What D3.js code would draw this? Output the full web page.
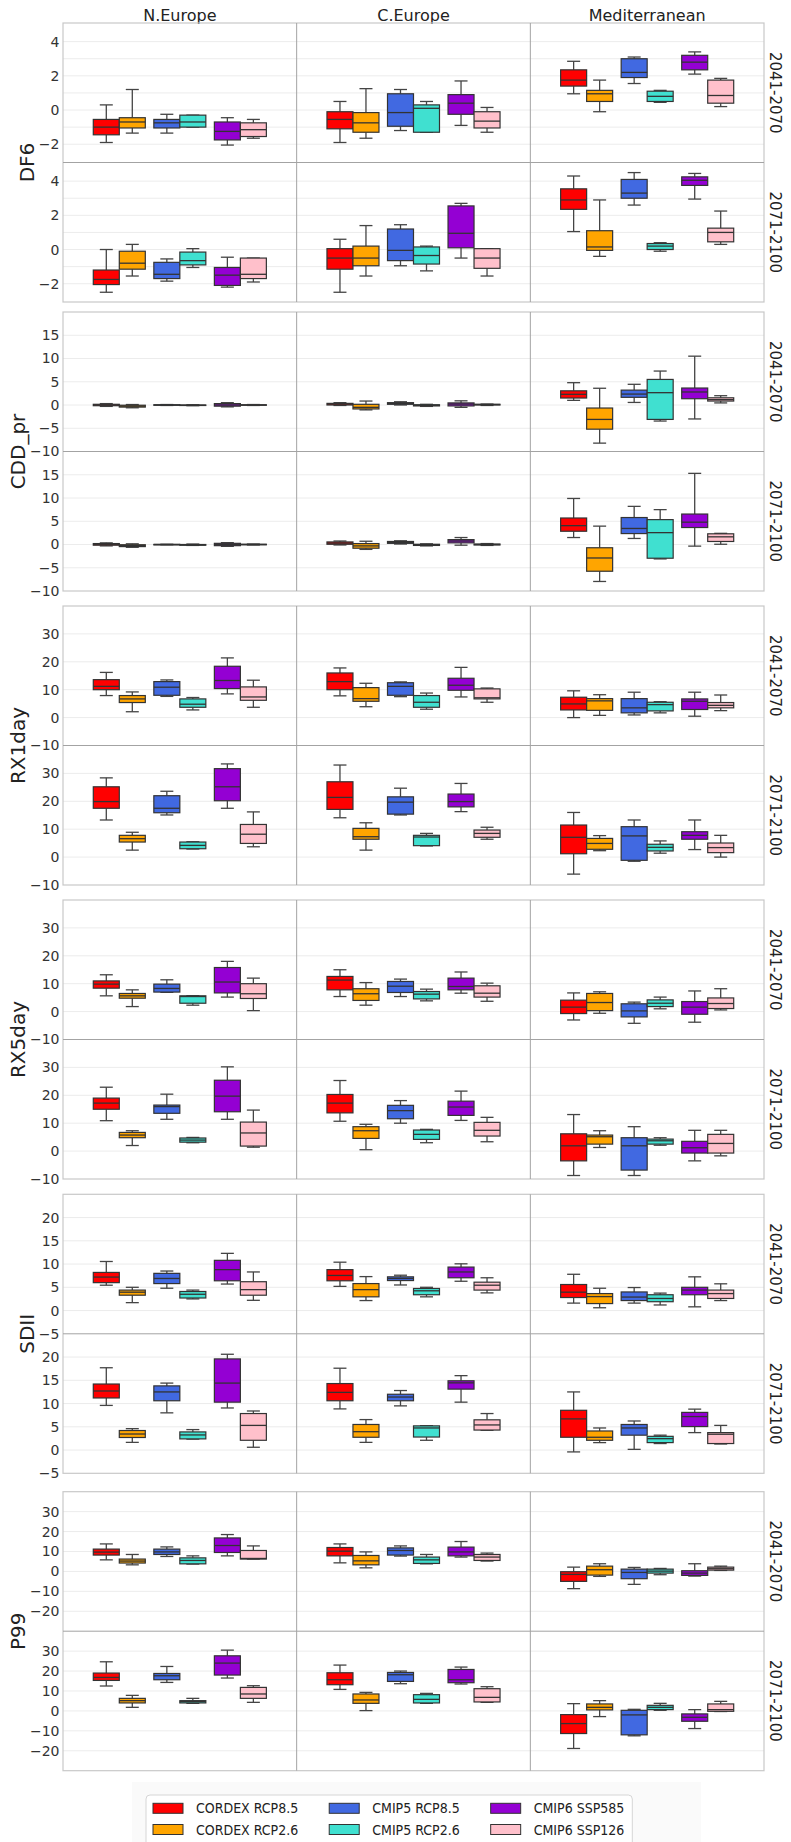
<!DOCTYPE html>
<html>
<head>
<meta charset="utf-8">
<script src="https://cdn.jsdelivr.net/npm/d3@7"></script>
<style>
  body { margin: 0; background: #fff; }
  svg { display: block; font-family: "DejaVu Sans", sans-serif; }
</style>
</head>
<body>
<div id="chart"></div>
<script>
// categories
var regions = ["N.Europe", "C.Europe", "Mediterranean"];
var periods = ["2041-2070", "2071-2100"];
var models = ["CORDEX", "CMIP5", "CMIP6"];
var series = ["CORDEX RCP8.5", "CORDEX RCP2.6", "CMIP5 RCP8.5", "CMIP5 RCP2.6", "CMIP6 SSP585", "CMIP6 SSP126"];
var seriesColors = ["#ff0000", "#ffa500", "#4169e1", "#40e0d0", "#9400d3", "#ffc0cb"];
var metrics = ["DF6", "CDD_pr", "RX1day", "RX5day", "SDII", "P99"];

// y limits, labelled ticks and grid step for each metric
var yDomains = [[-3.07, 5.09], [-10, 20], [-10, 40], [-10, 40], [-5, 25], [-30, 40]];
var yTicks = [
  [-2, 0, 2, 4],
  [-10, -5, 0, 5, 10, 15],
  [-10, 0, 10, 20, 30],
  [-10, 0, 10, 20, 30],
  [-5, 0, 5, 10, 15, 20],
  [-20, -10, 0, 10, 20, 30]
];
var yGridStep = [1, 5, 10, 10, 5, 10];

// box stats [whisker low, q1, median, q3, whisker high]
// one row per region (N.Europe, C.Europe, Mediterranean), series in legend order
var DF6_2041 = [
  [[-1.9,-1.45,-1.0,-0.55,0.3], [-1.35,-1.05,-0.7,-0.45,1.2], [-1.35,-1.05,-0.75,-0.55,-0.25], [-1.0,-1.0,-0.7,-0.3,-0.3], [-2.05,-1.75,-1.25,-0.7,-0.45], [-1.65,-1.55,-1.15,-0.75,-0.55]],
  [[-1.9,-1.1,-0.55,-0.1,0.5], [-1.65,-1.3,-0.75,-0.15,1.25], [-1.2,-0.95,-0.15,0.95,1.2], [-1.3,-1.3,0.1,0.3,0.5], [-0.9,-0.25,0.4,0.9,1.7], [-1.3,-1.05,-0.65,-0.1,0.15]],
  [[0.95,1.4,1.75,2.35,2.85], [-0.1,0.5,0.95,1.15,1.75], [1.55,1.9,2.2,3.0,3.1], [0.45,0.5,0.8,1.1,1.15], [2.1,2.35,2.8,3.2,3.4], [0.2,0.4,0.85,1.75,1.85]]
];
var DF6_2071 = [
  [[-2.5,-2.05,-1.75,-1.2,0.0], [-1.55,-1.15,-0.8,-0.1,0.3], [-1.85,-1.7,-1.45,-0.75,-0.55], [-1.05,-0.9,-0.65,-0.15,0.05], [-2.2,-2.1,-1.5,-1.05,-0.45], [-1.9,-1.7,-1.45,-0.5,-0.5]],
  [[-2.5,-1.15,-0.5,0.05,0.6], [-1.55,-0.95,-0.5,0.2,1.4], [-0.95,-0.65,-0.05,1.2,1.45], [-1.25,-0.85,-0.35,0.15,0.2], [-0.5,0.1,0.95,2.55,2.7], [-1.55,-1.1,-0.5,0.05,0.05]],
  [[1.05,2.35,2.9,3.55,4.3], [-0.4,-0.05,0.15,1.1,2.9], [2.6,3.0,3.3,4.1,4.5], [-0.1,0.0,0.2,0.35,0.4], [2.95,3.75,4.05,4.25,4.45], [0.3,0.45,1.0,1.25,2.25]]
];
var CDD_2041 = [
  [[-0.3,-0.15,0.0,0.15,0.3], [-0.6,-0.45,-0.25,-0.05,0.1], [-0.1,-0.05,0.0,0.05,0.1], [-0.15,-0.1,-0.05,0.0,0.05], [-0.4,-0.25,0.0,0.3,0.5], [-0.1,-0.05,0.0,0.05,0.1]],
  [[-0.1,0.0,0.2,0.35,0.5], [-1.05,-0.85,-0.5,0.15,0.85], [0.0,0.15,0.35,0.5,0.7], [-0.3,-0.2,-0.05,0.05,0.15], [-0.5,-0.2,0.2,0.45,0.9], [-0.1,0.0,0.1,0.15,0.2]],
  [[1.0,1.5,2.3,3.05,4.8], [-8.2,-5.2,-3.1,-0.65,3.6], [0.55,1.65,2.35,3.2,4.45], [-3.45,-3.1,2.65,5.5,7.3], [-3.0,1.35,2.8,3.65,10.5], [0.45,0.85,1.15,1.55,2.0]]
];
var CDD_2071 = [
  [[-0.3,-0.15,0.05,0.2,0.35], [-0.6,-0.45,-0.25,-0.05,0.15], [-0.05,-0.02,0.0,0.02,0.05], [-0.2,-0.15,-0.1,0.0,0.1], [-0.4,-0.25,0.0,0.25,0.4], [-0.1,-0.05,0.0,0.05,0.1]],
  [[-0.1,0.05,0.3,0.55,0.75], [-1.05,-0.8,-0.3,0.2,0.7], [0.1,0.25,0.45,0.65,0.8], [-0.3,-0.2,-0.1,0.05,0.15], [-0.15,0.35,0.75,1.05,1.5], [-0.2,-0.1,0.0,0.1,0.2]],
  [[1.5,2.85,4.05,5.7,9.9], [-7.95,-5.75,-2.9,-0.7,3.95], [1.3,2.35,3.45,5.8,8.2], [-3.1,-2.95,2.55,5.35,7.5], [-0.35,3.65,4.8,6.55,15.3], [0.05,0.65,1.65,2.3,2.4]]
];
var RX1_2041 = [
  [[7.9,10.0,11.2,13.6,16.2], [2.1,5.4,6.7,7.9,9.2], [7.6,8.0,10.9,12.9,13.5], [2.75,3.7,4.8,6.7,7.2], [8.5,10.4,13.3,18.4,21.4], [3.7,6.2,7.4,11.0,13.4]],
  [[7.8,10.0,12.9,16.0,17.8], [3.9,5.85,6.8,10.75,12.3], [7.5,8.0,11.2,12.5,12.8], [3.0,3.7,5.5,7.9,8.8], [7.4,9.8,11.6,14.1,18.0], [5.5,6.7,7.1,10.3,10.6]],
  [[0.0,2.75,4.9,7.3,9.6], [0.8,2.6,6.0,6.8,8.2], [0.95,1.7,3.5,6.8,9.1], [1.7,2.4,4.65,5.5,5.7], [0.5,2.9,5.85,6.7,9.1], [2.5,3.5,4.4,5.4,8.1]]
];
var RX1_2071 = [
  [[13.3,17.5,19.9,25.2,28.4], [2.5,5.4,6.6,7.8,8.9], [15.1,15.9,17.5,22.0,23.6], [2.9,3.0,4.2,5.4,5.5], [17.5,20.2,25.2,31.7,33.4], [3.7,4.9,8.2,11.7,16.2]],
  [[14.1,17.1,21.4,27.0,33.0], [2.5,6.4,7.3,10.3,12.3], [15.1,15.4,19.7,21.6,24.7], [4.0,4.1,7.2,7.8,8.5], [16.3,18.0,19.9,22.6,26.4], [6.4,7.1,8.5,9.7,10.7]],
  [[-6.1,1.2,7.1,11.5,16.0], [2.3,2.8,4.9,6.7,7.7], [-1.5,-1.15,7.6,10.9,13.3], [1.4,2.2,3.5,4.6,5.8], [2.7,6.4,7.8,9.1,13.3], [0.0,1.6,3.4,5.05,7.8]]
];
var RX5_2041 = [
  [[5.65,8.4,9.85,11.0,13.2], [1.8,4.8,5.65,6.5,7.8], [6.9,7.0,8.3,9.85,11.4], [2.3,3.0,5.4,5.65,5.7], [5.2,6.7,10.6,15.8,18.0], [0.35,4.7,6.4,10.0,12.0]],
  [[5.4,7.8,11.3,12.6,15.0], [2.3,4.0,6.4,8.2,10.4], [5.4,6.85,9.1,10.8,11.65], [3.85,4.55,6.25,7.2,8.05], [6.6,7.8,9.0,12.0,14.2], [3.7,5.2,6.6,9.25,10.2]],
  [[-3.0,-0.7,1.6,4.1,6.7], [-0.6,0.35,3.25,6.5,7.1], [-4.2,-1.9,0.25,2.8,3.4], [1.0,1.8,3.0,4.2,5.2], [-3.8,-0.95,1.6,3.6,7.4], [0.6,1.1,2.9,4.9,8.2]]
];
var RX5_2071 = [
  [[10.9,15.0,17.2,19.0,22.9], [2.0,4.8,5.75,6.7,7.3], [11.4,13.55,15.95,16.5,20.4], [3.0,3.2,3.95,4.7,4.9], [11.4,14.1,19.7,25.4,30.2], [1.4,1.8,6.5,10.4,14.7]],
  [[10.7,13.7,17.2,20.3,25.3], [0.5,4.55,7.3,8.75,9.6], [10.0,11.6,14.5,16.4,18.1], [3.0,4.2,6.0,7.55,7.8], [11.0,12.8,15.8,17.9,21.5], [3.35,5.4,7.45,10.3,12.1]],
  [[-8.75,-3.5,1.9,6.2,13.1], [1.3,2.5,5.15,5.75,7.3], [-8.75,-6.8,1.9,4.8,8.75], [2.1,2.5,3.7,4.3,4.8], [-3.5,-0.7,1.2,3.5,7.45], [-1.7,-0.7,2.75,6.0,7.45]]
];
var SDII_2041 = [
  [[5.45,6.0,7.2,8.2,10.55], [1.7,3.3,3.95,4.4,5.0], [4.8,5.8,6.9,8.0,8.5], [2.5,2.7,3.5,4.1,4.4], [5.7,6.4,8.8,10.8,12.3], [2.2,3.3,4.5,6.2,8.3]],
  [[5.2,6.4,7.55,8.8,10.4], [2.15,2.95,4.5,5.8,7.3], [5.5,6.45,6.9,7.25,7.6], [2.95,3.4,4.25,4.75,5.0], [6.3,7.05,8.3,9.35,10.05], [3.8,4.4,5.45,6.1,7.05]],
  [[1.6,2.8,3.95,5.6,7.8], [0.6,1.5,3.0,3.65,4.8], [1.6,2.15,2.9,4.0,4.95], [1.2,1.9,2.6,3.4,3.75], [0.8,3.4,4.4,5.0,7.25], [2.15,2.6,3.65,4.4,5.75]]
];
var SDII_2071 = [
  [[9.6,11.2,12.7,14.2,17.7], [1.65,2.7,3.45,4.2,4.6], [8.0,10.6,12.5,13.8,14.4], [2.35,2.4,3.25,3.9,4.4], [9.05,10.3,14.4,19.6,20.6], [0.6,2.1,5.3,7.85,8.4]],
  [[8.85,10.6,12.4,14.3,17.6], [1.65,2.75,3.95,5.5,6.55], [9.5,10.6,11.4,12.0,12.8], [2.1,2.8,4.75,5.2,5.25], [10.3,13.1,14.45,14.9,16.0], [4.25,4.3,5.4,6.5,7.85]],
  [[-0.4,2.75,6.7,8.55,12.5], [1.6,2.1,2.75,4.1,4.75], [0.15,3.2,4.75,5.5,6.25], [1.4,1.6,2.45,2.95,3.2], [3.75,5.05,7.2,8.1,8.8], [1.3,1.4,3.4,3.75,5.3]]
];
var P99_2041 = [
  [[5.8,8.2,9.7,11.2,13.8], [3.3,4.2,5.2,6.2,8.5], [7.5,8.5,9.8,11.2,12.3], [3.7,3.8,5.5,6.8,7.8], [7.8,9.5,13.0,16.8,18.5], [6.2,6.2,6.5,10.5,12.8]],
  [[4.3,7.8,10.15,12.0,13.8], [1.8,3.3,5.3,8.0,9.8], [7.7,8.2,10.5,11.8,12.8], [3.8,4.0,5.8,7.2,8.5], [7.2,7.8,9.8,12.2,15.0], [5.2,5.5,7.2,8.5,9.2]],
  [[-8.65,-5.0,-1.5,-0.15,2.15], [-2.5,-1.85,0.85,2.65,3.85], [-6.5,-3.65,-0.5,1.15,2.0], [-1.65,-0.85,0.15,1.15,1.5], [-2.35,-2.0,-0.85,0.35,3.85], [0.5,0.65,1.35,2.15,2.65]]
];
var P99_2071 = [
  [[12.5,15.3,16.8,19.0,24.65], [1.8,4.0,5.15,6.3,7.8], [14.3,15.65,17.65,18.8,22.3], [3.8,4.0,4.65,5.15,6.3], [16.5,18.0,24.0,27.65,30.5], [4.3,6.3,8.5,11.8,12.65]],
  [[10.8,13.15,15.65,19.15,23.0], [0.15,3.8,5.5,8.5,9.3], [13.65,14.8,18.15,19.3,20.0], [3.8,4.0,5.8,8.15,8.8], [13.5,14.15,15.65,20.8,22.0], [4.3,4.5,6.8,11.15,12.15]],
  [[-18.85,-11.35,-6.35,-1.85,3.65], [-2.85,0.5,1.8,3.5,5.15], [-12.5,-12.0,-2.0,0.3,0.8], [0.3,0.65,1.8,2.8,3.8], [-8.85,-5.2,-3.2,-1.5,0.65], [-0.3,-0.2,0.65,3.5,4.8]]
];

var boxData = [
  [DF6_2041, DF6_2071],
  [CDD_2041, CDD_2071],
  [RX1_2041, RX1_2071],
  [RX5_2041, RX5_2071],
  [SDII_2041, SDII_2071],
  [P99_2041, P99_2071]
];

var width = 791, height = 1842;
var plotLeft = 63, plotRight = 764;
var groupTops = [23, 312, 606, 900, 1194.3, 1491.7];
var panelH = 139.5;
var edgeColor = "#333";

var svg = d3.select("#chart").append("svg")
  .attr("width", width)
  .attr("height", height);

var xRegion = d3.scaleBand().domain(regions).range([plotLeft, plotRight]);
var xModel = d3.scalePoint().domain(models).range([0, xRegion.bandwidth()]).padding(0.93);
var xHue = d3.scaleBand().domain([0, 1]).range([-26, 26]);

// column titles
svg.append("g").selectAll("text")
  .data(regions)
  .enter().append("text")
  .attr("x", d => xRegion(d) + xRegion.bandwidth() / 2)
  .attr("y", 21)
  .attr("text-anchor", "middle")
  .attr("font-size", 16)
  .attr("fill", "#222")
  .text(d => d);

metrics.forEach(function(metric, gi) {
  var gTop = groupTops[gi];
  var layer = svg.append("g").attr("class", "metric-" + metric);
  var gridLayer = layer.append("g");
  var frameLayer = layer.append("g");
  var boxLayer = layer.append("g");
  var tickLefts = [];

  periods.forEach(function(period, pi) {
    var top = gTop + pi * panelH;
    var y = d3.scaleLinear().domain(yDomains[gi]).range([top + panelH, top]);
    var step = yGridStep[gi];
    var grid = d3.range(Math.ceil(yDomains[gi][0] / step) * step, yDomains[gi][1], step)
      .filter(v => y(v) > top + 2 && y(v) < top + panelH - 2);

    gridLayer.selectAll(null)
      .data(grid)
      .enter().append("line")
      .attr("x1", plotLeft).attr("x2", plotRight)
      .attr("y1", d => y(d)).attr("y2", d => y(d))
      .attr("stroke", "#ececec")
      .attr("stroke-width", 1);

    // tick labels
    var axis = layer.append("g")
      .attr("transform", "translate(" + plotLeft + ",0)")
      .call(d3.axisLeft(y).tickValues(yTicks[gi]).tickSize(0).tickPadding(3.5).tickFormat(d3.format("d")));
    axis.select(".domain").remove();
    axis.selectAll("text")
      .attr("font-size", 14)
      .attr("font-family", "DejaVu Sans")
      .attr("fill", "#333")
      .each(function() { tickLefts.push(this.getBoundingClientRect().left); });

    // period label on the right
    layer.append("text")
      .attr("transform", "translate(770," + (top + panelH / 2) + ") rotate(90)")
      .attr("text-anchor", "middle")
      .attr("font-size", 15)
      .attr("fill", "#222")
      .text(period);

    // boxes
    boxData[gi][pi].forEach(function(rows, ri) {
      var region = regions[ri];
      var cell = boxLayer.append("g");
      var items = rows.map(function(s, si) {
        var cx = xRegion(region) + xModel(models[Math.floor(si / 2)]) + xHue(si % 2) + xHue.bandwidth() / 2;
        return { stats: s, cx: cx, color: seriesColors[si] };
      });
      var bw = xHue.bandwidth();
      var b = cell.selectAll("g").data(items).enter().append("g");
      // whiskers
      b.append("line")
        .attr("x1", d => d.cx).attr("x2", d => d.cx)
        .attr("y1", d => y(d.stats[4])).attr("y2", d => y(d.stats[3]))
        .attr("stroke", "#444").attr("stroke-width", 1.3);
      b.append("line")
        .attr("x1", d => d.cx).attr("x2", d => d.cx)
        .attr("y1", d => y(d.stats[1])).attr("y2", d => y(d.stats[0]))
        .attr("stroke", "#444").attr("stroke-width", 1.3);
      // caps
      [0, 4].forEach(function(k) {
        b.append("line")
          .attr("x1", d => d.cx - bw / 4).attr("x2", d => d.cx + bw / 4)
          .attr("y1", d => y(d.stats[k])).attr("y2", d => y(d.stats[k]))
          .attr("stroke", "#444").attr("stroke-width", 1.3);
      });
      b.append("rect")
        .attr("x", d => d.cx - bw / 2)
        .attr("width", bw)
        .attr("y", d => y(d.stats[3]))
        .attr("height", d => Math.max(0.5, y(d.stats[1]) - y(d.stats[3])))
        .attr("fill", d => d.color)
        .attr("stroke", edgeColor)
        .attr("stroke-width", 1.2);
      b.append("line")
        .attr("x1", d => d.cx - bw / 2).attr("x2", d => d.cx + bw / 2)
        .attr("y1", d => y(d.stats[2])).attr("y2", d => y(d.stats[2]))
        .attr("stroke", edgeColor).attr("stroke-width", 1.3);
    });
  });

  // frames
  var gBottom = gTop + 2 * panelH;
  frameLayer.append("rect")
    .attr("x", plotLeft).attr("y", gTop)
    .attr("width", plotRight - plotLeft).attr("height", gBottom - gTop)
    .attr("fill", "none").attr("stroke", "#c8c8c8").attr("stroke-width", 1.2);
  frameLayer.selectAll(null)
    .data(regions.slice(1))
    .enter().append("line")
    .attr("x1", d => xRegion(d)).attr("x2", d => xRegion(d))
    .attr("y1", gTop).attr("y2", gBottom)
    .attr("stroke", "#a3a3a3").attr("stroke-width", 1);
  frameLayer.append("line")
    .attr("x1", plotLeft).attr("x2", plotRight)
    .attr("y1", gTop + panelH).attr("y2", gTop + panelH)
    .attr("stroke", "#a3a3a3").attr("stroke-width", 1);

  // metric label, left of the widest tick label
  var labelX = d3.min(tickLefts) - 5;
  layer.append("text")
    .attr("transform", "translate(" + labelX + "," + (gTop + panelH) + ") rotate(-90)")
    .attr("text-anchor", "middle")
    .attr("font-size", 20)
    .attr("fill", "#222")
    .text(metric);
});

// legend
var legendBg = svg.append("g");
legendBg.append("rect")
  .attr("x", 132).attr("y", 1782).attr("width", 569).attr("height", 70)
  .attr("fill", "#fafafa");
var legend = svg.append("g");
var legendBox = legend.append("rect")
  .attr("x", 146).attr("y", 1795).attr("width", 535).attr("height", 56)
  .attr("rx", 4)
  .attr("fill", "#fff").attr("stroke", "#d6d6d6").attr("stroke-width", 1);

var rowY = [1808.3, 1829.5];
var colX = 153;
for (var c = 0; c < 3; c++) {
  var maxEnd = colX;
  for (var r = 0; r < 2; r++) {
    var si = c * 2 + r;
    legend.append("rect")
      .attr("x", colX).attr("y", rowY[r] - 5)
      .attr("width", 30).attr("height", 10)
      .attr("fill", seriesColors[si])
      .attr("stroke", edgeColor).attr("stroke-width", 1);
    var t = legend.append("text")
      .attr("x", colX + 43).attr("y", rowY[r])
      .attr("dy", "0.36em")
      .attr("font-size", 14)
      .attr("font-family", "'DejaVu Sans Condensed', 'DejaVu Sans'")
      .attr("font-stretch", "condensed")
      .attr("fill", "#222")
      .text(series[si]);
    maxEnd = Math.max(maxEnd, colX + 43 + t.node().getComputedTextLength());
  }
  colX = maxEnd + 31;
}
legendBox.attr("width", colX - 31 + 8 - 146);
</script>
</body>
</html>
